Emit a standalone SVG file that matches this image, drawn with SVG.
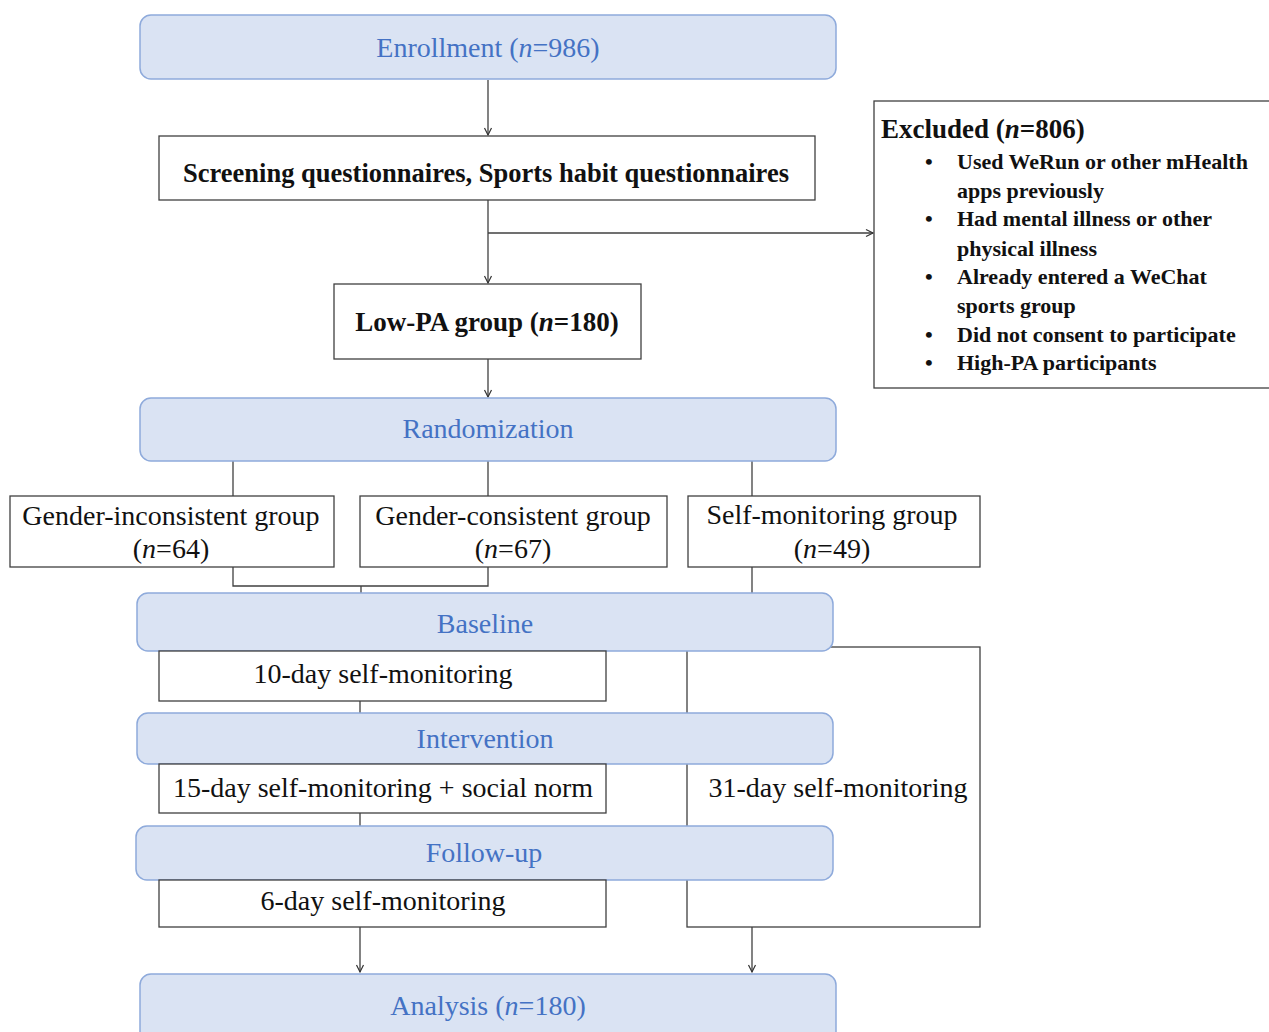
<svg xmlns="http://www.w3.org/2000/svg" width="1269" height="1032" viewBox="0 0 1269 1032">
<defs>
<marker id="arr" markerWidth="10" markerHeight="10" refX="8" refY="5" orient="auto" markerUnits="userSpaceOnUse">
<polyline points="1,1.5 8,5 1,8.5" fill="none" stroke="#333" stroke-width="1.2"/>
</marker>
<style>
.phase{fill:#dae3f3;stroke:#8eaadb;stroke-width:1.5}
.box{fill:#fff;stroke:#404040;stroke-width:1.3}
.pt{font-family:"Liberation Serif",serif;font-size:28px;fill:#4472c4;text-anchor:middle}
.t{font-family:"Liberation Serif",serif;font-size:28px;fill:#111;text-anchor:middle}
.tb{font-family:"Liberation Serif",serif;font-size:27px;font-weight:bold;fill:#111;text-anchor:middle}
.ex{font-family:"Liberation Serif",serif;font-size:22px;font-weight:bold;fill:#111}
.ext{font-family:"Liberation Serif",serif;font-size:27px;font-weight:bold;fill:#111}
.ln{fill:none;stroke:#404040;stroke-width:1.3}
</style>
</defs>
<rect width="1269" height="1032" fill="#fff"/>
<g id="box31">
<rect class="box" x="687" y="647" width="293" height="280"/>
<text class="t" x="838" y="797">31-day self-monitoring</text>
</g>
<g id="connectors">
<line class="ln" x1="488" y1="80" x2="488" y2="135" marker-end="url(#arr)"/>
<line class="ln" x1="488" y1="200" x2="488" y2="283" marker-end="url(#arr)"/>
<line class="ln" x1="488" y1="233" x2="873" y2="233" marker-end="url(#arr)"/>
<line class="ln" x1="488" y1="359" x2="488" y2="397" marker-end="url(#arr)"/>
<line class="ln" x1="233" y1="461" x2="233" y2="496"/>
<line class="ln" x1="488" y1="461" x2="488" y2="496"/>
<line class="ln" x1="752" y1="461" x2="752" y2="496"/>
<polyline class="ln" points="233,567 233,586 488,586 488,567"/>
<line class="ln" x1="361" y1="586" x2="361" y2="593"/>
<line class="ln" x1="752" y1="567" x2="752" y2="593"/>
<line class="ln" x1="360" y1="701" x2="360" y2="713"/>
<line class="ln" x1="360" y1="813" x2="360" y2="826"/>
<line class="ln" x1="360" y1="927" x2="360" y2="972" marker-end="url(#arr)"/>
<line class="ln" x1="752" y1="927" x2="752" y2="972" marker-end="url(#arr)"/>
</g>
<g id="enrollment">
<rect class="phase" x="140" y="15" width="696" height="64" rx="11"/>
<text class="pt" x="488" y="57">Enrollment (<tspan font-style="italic">n</tspan>=986)</text>
</g>
<g id="screening">
<rect class="box" x="159" y="136" width="656" height="64"/>
<text class="tb" x="486" y="182" style="font-size:26.5px">Screening questionnaires, Sports habit questionnaires</text>
</g>
<g id="excluded">
<rect class="box" x="874" y="101" width="420" height="287"/>
<text class="ext" x="881" y="138">Excluded (<tspan font-style="italic">n</tspan>=806)</text>
<g class="ex">
<text x="925" y="169">•</text><text x="957" y="169">Used WeRun or other mHealth</text>
<text x="957" y="198">apps previously</text>
<text x="925" y="226">•</text><text x="957" y="226">Had mental illness or other</text>
<text x="957" y="256">physical illness</text>
<text x="925" y="284">•</text><text x="957" y="284">Already entered a WeChat</text>
<text x="957" y="313">sports group</text>
<text x="925" y="342">•</text><text x="957" y="342">Did not consent to participate</text>
<text x="925" y="370">•</text><text x="957" y="370">High-PA participants</text>
</g>
</g>
<g id="lowpa">
<rect class="box" x="334" y="284" width="307" height="75"/>
<text class="tb" x="487" y="331">Low-PA group (<tspan font-style="italic">n</tspan>=180)</text>
</g>
<g id="randomization">
<rect class="phase" x="140" y="398" width="696" height="63" rx="11"/>
<text class="pt" x="488" y="438">Randomization</text>
</g>
<g id="g-inconsistent">
<rect class="box" x="10" y="496" width="324" height="71"/>
<text class="t" x="171" y="525">Gender-inconsistent group</text>
<text class="t" x="171" y="558">(<tspan font-style="italic">n</tspan>=64)</text>
</g>
<g id="g-consistent">
<rect class="box" x="360" y="496" width="307" height="71"/>
<text class="t" x="513" y="525">Gender-consistent group</text>
<text class="t" x="513" y="558">(<tspan font-style="italic">n</tspan>=67)</text>
</g>
<g id="g-self">
<rect class="box" x="688" y="496" width="292" height="71"/>
<text class="t" x="832" y="524">Self-monitoring group</text>
<text class="t" x="832" y="558">(<tspan font-style="italic">n</tspan>=49)</text>
</g>
<g id="baseline">
<rect class="phase" x="137" y="593" width="696" height="58" rx="11"/>
<text class="pt" x="485" y="633">Baseline</text>
</g>
<g id="day10">
<rect class="box" x="159" y="651" width="447" height="50"/>
<text class="t" x="383" y="683">10-day self-monitoring</text>
</g>
<g id="intervention">
<rect class="phase" x="137" y="713" width="696" height="51" rx="11"/>
<text class="pt" x="485" y="748">Intervention</text>
</g>
<g id="day15">
<rect class="box" x="159" y="764" width="447" height="49"/>
<text class="t" x="383" y="797">15-day self-monitoring + social norm</text>
</g>
<g id="followup">
<rect class="phase" x="136" y="826" width="697" height="54" rx="11"/>
<text class="pt" x="484" y="862">Follow-up</text>
</g>
<g id="day6">
<rect class="box" x="159" y="880" width="447" height="47"/>
<text class="t" x="383" y="910">6-day self-monitoring</text>
</g>
<g id="analysis">
<rect class="phase" x="140" y="974" width="696" height="80" rx="11"/>
<text class="pt" x="488" y="1015">Analysis (<tspan font-style="italic">n</tspan>=180)</text>
</g>
</svg>
